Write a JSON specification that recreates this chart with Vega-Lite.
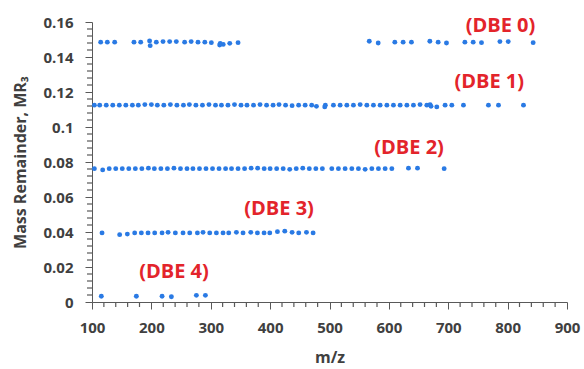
{
  "$schema": "https://vega.github.io/schema/vega-lite/v6.json",
  "autosize": "none",
  "width": 475,
  "height": 280,
  "padding": {"left": 92, "top": 22, "right": 17, "bottom": 67},
  "background": "white",
  "config": {"view": {"stroke": null}},
  "datasets": {
    "pts": [
      {"mz": 114.6, "mr": 0.1485, "dbe": "DBE 0"}, {"mz": 125.8, "mr": 0.1485, "dbe": "DBE 0"}, {"mz": 138.2, "mr": 0.1485, "dbe": "DBE 0"},
      {"mz": 170.7, "mr": 0.1485, "dbe": "DBE 0"}, {"mz": 182, "mr": 0.1485, "dbe": "DBE 0"}, {"mz": 197, "mr": 0.1492, "dbe": "DBE 0"},
      {"mz": 198, "mr": 0.1465, "dbe": "DBE 0"}, {"mz": 208.3, "mr": 0.1485, "dbe": "DBE 0"}, {"mz": 219.6, "mr": 0.1488, "dbe": "DBE 0"},
      {"mz": 230.8, "mr": 0.1488, "dbe": "DBE 0"}, {"mz": 242, "mr": 0.1488, "dbe": "DBE 0"}, {"mz": 256, "mr": 0.1485, "dbe": "DBE 0"},
      {"mz": 267, "mr": 0.1488, "dbe": "DBE 0"}, {"mz": 278.5, "mr": 0.1485, "dbe": "DBE 0"}, {"mz": 290, "mr": 0.1485, "dbe": "DBE 0"},
      {"mz": 301, "mr": 0.1482, "dbe": "DBE 0"}, {"mz": 315, "mr": 0.1468, "dbe": "DBE 0"}, {"mz": 316, "mr": 0.1478, "dbe": "DBE 0"},
      {"mz": 321, "mr": 0.1472, "dbe": "DBE 0"}, {"mz": 332, "mr": 0.1478, "dbe": "DBE 0"}, {"mz": 346, "mr": 0.1482, "dbe": "DBE 0"},
      {"mz": 567, "mr": 0.149, "dbe": "DBE 0"}, {"mz": 582, "mr": 0.148, "dbe": "DBE 0"}, {"mz": 610, "mr": 0.1485, "dbe": "DBE 0"},
      {"mz": 624, "mr": 0.1485, "dbe": "DBE 0"}, {"mz": 638, "mr": 0.1485, "dbe": "DBE 0"}, {"mz": 669, "mr": 0.149, "dbe": "DBE 0"},
      {"mz": 683, "mr": 0.1485, "dbe": "DBE 0"}, {"mz": 697, "mr": 0.148, "dbe": "DBE 0"}, {"mz": 728, "mr": 0.1485, "dbe": "DBE 0"},
      {"mz": 742, "mr": 0.1485, "dbe": "DBE 0"}, {"mz": 756, "mr": 0.1482, "dbe": "DBE 0"}, {"mz": 787, "mr": 0.1488, "dbe": "DBE 0"},
      {"mz": 801, "mr": 0.1488, "dbe": "DBE 0"}, {"mz": 843, "mr": 0.1482, "dbe": "DBE 0"},

      {"mz": 104, "mr": 0.1125, "dbe": "DBE 1"}, {"mz": 113, "mr": 0.1125, "dbe": "DBE 1"}, {"mz": 124, "mr": 0.1125, "dbe": "DBE 1"},
      {"mz": 135, "mr": 0.1125, "dbe": "DBE 1"}, {"mz": 146, "mr": 0.1125, "dbe": "DBE 1"}, {"mz": 157, "mr": 0.1125, "dbe": "DBE 1"},
      {"mz": 168, "mr": 0.1125, "dbe": "DBE 1"}, {"mz": 178, "mr": 0.1125, "dbe": "DBE 1"}, {"mz": 189, "mr": 0.1128, "dbe": "DBE 1"},
      {"mz": 200, "mr": 0.1128, "dbe": "DBE 1"}, {"mz": 210, "mr": 0.1125, "dbe": "DBE 1"}, {"mz": 221, "mr": 0.1125, "dbe": "DBE 1"},
      {"mz": 232, "mr": 0.1128, "dbe": "DBE 1"}, {"mz": 243, "mr": 0.1125, "dbe": "DBE 1"}, {"mz": 254, "mr": 0.1125, "dbe": "DBE 1"},
      {"mz": 264, "mr": 0.1128, "dbe": "DBE 1"}, {"mz": 275, "mr": 0.1125, "dbe": "DBE 1"}, {"mz": 286, "mr": 0.1125, "dbe": "DBE 1"},
      {"mz": 297, "mr": 0.1128, "dbe": "DBE 1"}, {"mz": 308, "mr": 0.1125, "dbe": "DBE 1"}, {"mz": 318, "mr": 0.1125, "dbe": "DBE 1"},
      {"mz": 329, "mr": 0.1125, "dbe": "DBE 1"}, {"mz": 340, "mr": 0.1128, "dbe": "DBE 1"}, {"mz": 351, "mr": 0.1125, "dbe": "DBE 1"},
      {"mz": 361, "mr": 0.1125, "dbe": "DBE 1"}, {"mz": 372, "mr": 0.1125, "dbe": "DBE 1"}, {"mz": 383, "mr": 0.1128, "dbe": "DBE 1"},
      {"mz": 394, "mr": 0.1125, "dbe": "DBE 1"}, {"mz": 405, "mr": 0.1125, "dbe": "DBE 1"}, {"mz": 415, "mr": 0.1128, "dbe": "DBE 1"},
      {"mz": 426, "mr": 0.1125, "dbe": "DBE 1"}, {"mz": 437, "mr": 0.1122, "dbe": "DBE 1"}, {"mz": 448, "mr": 0.1125, "dbe": "DBE 1"},
      {"mz": 459, "mr": 0.1125, "dbe": "DBE 1"}, {"mz": 470, "mr": 0.1125, "dbe": "DBE 1"}, {"mz": 478, "mr": 0.1118, "dbe": "DBE 1"},
      {"mz": 492, "mr": 0.1115, "dbe": "DBE 1"}, {"mz": 493, "mr": 0.1125, "dbe": "DBE 1"},
      {"mz": 506.6, "mr": 0.1125, "dbe": "DBE 1"}, {"mz": 517.9, "mr": 0.1125, "dbe": "DBE 1"}, {"mz": 529.2, "mr": 0.1125, "dbe": "DBE 1"},
      {"mz": 540.3, "mr": 0.1125, "dbe": "DBE 1"}, {"mz": 551.6, "mr": 0.1128, "dbe": "DBE 1"}, {"mz": 562.9, "mr": 0.1125, "dbe": "DBE 1"},
      {"mz": 574, "mr": 0.1125, "dbe": "DBE 1"}, {"mz": 585.3, "mr": 0.1125, "dbe": "DBE 1"}, {"mz": 596.6, "mr": 0.1125, "dbe": "DBE 1"},
      {"mz": 607.7, "mr": 0.1125, "dbe": "DBE 1"}, {"mz": 619, "mr": 0.1125, "dbe": "DBE 1"}, {"mz": 630.3, "mr": 0.1125, "dbe": "DBE 1"},
      {"mz": 641.4, "mr": 0.1125, "dbe": "DBE 1"}, {"mz": 652.5, "mr": 0.1128, "dbe": "DBE 1"}, {"mz": 663.9, "mr": 0.1125, "dbe": "DBE 1"},
      {"mz": 669.4, "mr": 0.1128, "dbe": "DBE 1"}, {"mz": 671, "mr": 0.1118, "dbe": "DBE 1"}, {"mz": 680.7, "mr": 0.1115, "dbe": "DBE 1"},
      {"mz": 694.7, "mr": 0.1125, "dbe": "DBE 1"}, {"mz": 706, "mr": 0.1125, "dbe": "DBE 1"}, {"mz": 725.6, "mr": 0.1125, "dbe": "DBE 1"},
      {"mz": 767.7, "mr": 0.1125, "dbe": "DBE 1"}, {"mz": 784.6, "mr": 0.1125, "dbe": "DBE 1"}, {"mz": 826.7, "mr": 0.1125, "dbe": "DBE 1"},

      {"mz": 104, "mr": 0.0762, "dbe": "DBE 2"}, {"mz": 118, "mr": 0.0755, "dbe": "DBE 2"}, {"mz": 129, "mr": 0.0762, "dbe": "DBE 2"},
      {"mz": 140, "mr": 0.0762, "dbe": "DBE 2"}, {"mz": 151, "mr": 0.0762, "dbe": "DBE 2"}, {"mz": 162, "mr": 0.0762, "dbe": "DBE 2"},
      {"mz": 173, "mr": 0.0762, "dbe": "DBE 2"}, {"mz": 184, "mr": 0.0762, "dbe": "DBE 2"}, {"mz": 195, "mr": 0.0765, "dbe": "DBE 2"},
      {"mz": 205, "mr": 0.0762, "dbe": "DBE 2"}, {"mz": 216, "mr": 0.0762, "dbe": "DBE 2"}, {"mz": 227, "mr": 0.0762, "dbe": "DBE 2"},
      {"mz": 238, "mr": 0.0765, "dbe": "DBE 2"}, {"mz": 249, "mr": 0.0762, "dbe": "DBE 2"}, {"mz": 260, "mr": 0.0762, "dbe": "DBE 2"},
      {"mz": 270, "mr": 0.0762, "dbe": "DBE 2"}, {"mz": 281, "mr": 0.0762, "dbe": "DBE 2"}, {"mz": 292, "mr": 0.0762, "dbe": "DBE 2"},
      {"mz": 303, "mr": 0.0762, "dbe": "DBE 2"}, {"mz": 314, "mr": 0.0762, "dbe": "DBE 2"}, {"mz": 325, "mr": 0.0762, "dbe": "DBE 2"},
      {"mz": 335, "mr": 0.0762, "dbe": "DBE 2"}, {"mz": 346, "mr": 0.0762, "dbe": "DBE 2"}, {"mz": 357, "mr": 0.0762, "dbe": "DBE 2"},
      {"mz": 368, "mr": 0.0765, "dbe": "DBE 2"}, {"mz": 379, "mr": 0.0765, "dbe": "DBE 2"}, {"mz": 390, "mr": 0.0762, "dbe": "DBE 2"},
      {"mz": 400, "mr": 0.0762, "dbe": "DBE 2"}, {"mz": 411, "mr": 0.0762, "dbe": "DBE 2"}, {"mz": 422, "mr": 0.0762, "dbe": "DBE 2"},
      {"mz": 433, "mr": 0.0758, "dbe": "DBE 2"}, {"mz": 444, "mr": 0.0762, "dbe": "DBE 2"}, {"mz": 455, "mr": 0.0765, "dbe": "DBE 2"},
      {"mz": 466, "mr": 0.0762, "dbe": "DBE 2"}, {"mz": 477, "mr": 0.0762, "dbe": "DBE 2"}, {"mz": 488, "mr": 0.0762, "dbe": "DBE 2"},
      {"mz": 503.9, "mr": 0.0762, "dbe": "DBE 2"}, {"mz": 515, "mr": 0.0762, "dbe": "DBE 2"}, {"mz": 526.3, "mr": 0.0762, "dbe": "DBE 2"},
      {"mz": 537.6, "mr": 0.0762, "dbe": "DBE 2"}, {"mz": 548.7, "mr": 0.0762, "dbe": "DBE 2"}, {"mz": 560, "mr": 0.0758, "dbe": "DBE 2"},
      {"mz": 571.3, "mr": 0.0762, "dbe": "DBE 2"}, {"mz": 582.4, "mr": 0.0762, "dbe": "DBE 2"}, {"mz": 593.7, "mr": 0.0762, "dbe": "DBE 2"},
      {"mz": 605, "mr": 0.0762, "dbe": "DBE 2"}, {"mz": 633, "mr": 0.0765, "dbe": "DBE 2"}, {"mz": 648.2, "mr": 0.0765, "dbe": "DBE 2"},
      {"mz": 693.1, "mr": 0.0762, "dbe": "DBE 2"},

      {"mz": 116.9, "mr": 0.0395, "dbe": "DBE 3"}, {"mz": 146.6, "mr": 0.0385, "dbe": "DBE 3"}, {"mz": 159.5, "mr": 0.0388, "dbe": "DBE 3"},
      {"mz": 171.9, "mr": 0.0395, "dbe": "DBE 3"}, {"mz": 183.1, "mr": 0.0395, "dbe": "DBE 3"}, {"mz": 194.4, "mr": 0.0395, "dbe": "DBE 3"},
      {"mz": 205.6, "mr": 0.0395, "dbe": "DBE 3"}, {"mz": 218, "mr": 0.0395, "dbe": "DBE 3"}, {"mz": 228.1, "mr": 0.0398, "dbe": "DBE 3"},
      {"mz": 240.4, "mr": 0.0395, "dbe": "DBE 3"}, {"mz": 253.3, "mr": 0.0395, "dbe": "DBE 3"}, {"mz": 264.6, "mr": 0.0395, "dbe": "DBE 3"},
      {"mz": 277.5, "mr": 0.0395, "dbe": "DBE 3"}, {"mz": 287, "mr": 0.0398, "dbe": "DBE 3"}, {"mz": 298.3, "mr": 0.0395, "dbe": "DBE 3"},
      {"mz": 309.5, "mr": 0.0395, "dbe": "DBE 3"}, {"mz": 320.7, "mr": 0.0395, "dbe": "DBE 3"}, {"mz": 330.3, "mr": 0.0395, "dbe": "DBE 3"},
      {"mz": 343.2, "mr": 0.0398, "dbe": "DBE 3"}, {"mz": 354.4, "mr": 0.0395, "dbe": "DBE 3"}, {"mz": 367.4, "mr": 0.0398, "dbe": "DBE 3"},
      {"mz": 378.6, "mr": 0.0395, "dbe": "DBE 3"}, {"mz": 389.8, "mr": 0.0395, "dbe": "DBE 3"}, {"mz": 399.4, "mr": 0.0395, "dbe": "DBE 3"},
      {"mz": 412.3, "mr": 0.0402, "dbe": "DBE 3"}, {"mz": 424.7, "mr": 0.0405, "dbe": "DBE 3"}, {"mz": 437, "mr": 0.0398, "dbe": "DBE 3"},
      {"mz": 448.2, "mr": 0.0395, "dbe": "DBE 3"}, {"mz": 461.2, "mr": 0.0398, "dbe": "DBE 3"}, {"mz": 472.4, "mr": 0.0395, "dbe": "DBE 3"},

      {"mz": 115.7, "mr": 0.0033, "dbe": "DBE 4"}, {"mz": 174.7, "mr": 0.0033, "dbe": "DBE 4"}, {"mz": 218, "mr": 0.0033, "dbe": "DBE 4"},
      {"mz": 233.7, "mr": 0.003, "dbe": "DBE 4"}, {"mz": 275.8, "mr": 0.0038, "dbe": "DBE 4"}, {"mz": 291, "mr": 0.0038, "dbe": "DBE 4"}
    ],
    "labels": [
      {"mz": 788, "mr": 0.158, "text": "(DBE 0)"},
      {"mz": 769, "mr": 0.1256, "text": "(DBE 1)"},
      {"mz": 634, "mr": 0.0881, "text": "(DBE 2)"},
      {"mz": 415, "mr": 0.0533, "text": "(DBE 3)"},
      {"mz": 238, "mr": 0.017, "text": "(DBE 4)"}
    ],
    "minorx": [
      {"mz": 120}, {"mz": 140}, {"mz": 160}, {"mz": 180}, {"mz": 220}, {"mz": 240}, {"mz": 260}, {"mz": 280},
      {"mz": 320}, {"mz": 340}, {"mz": 360}, {"mz": 380}, {"mz": 420}, {"mz": 440}, {"mz": 460}, {"mz": 480},
      {"mz": 520}, {"mz": 540}, {"mz": 560}, {"mz": 580}, {"mz": 620}, {"mz": 640}, {"mz": 660}, {"mz": 680},
      {"mz": 720}, {"mz": 740}, {"mz": 760}, {"mz": 780}, {"mz": 820}, {"mz": 840}, {"mz": 860}, {"mz": 880}
    ],
    "minory": [
      {"mr": 0.004}, {"mr": 0.008}, {"mr": 0.012}, {"mr": 0.016}, {"mr": 0.024}, {"mr": 0.028}, {"mr": 0.032}, {"mr": 0.036},
      {"mr": 0.044}, {"mr": 0.048}, {"mr": 0.052}, {"mr": 0.056}, {"mr": 0.064}, {"mr": 0.068}, {"mr": 0.072}, {"mr": 0.076},
      {"mr": 0.084}, {"mr": 0.088}, {"mr": 0.092}, {"mr": 0.096}, {"mr": 0.104}, {"mr": 0.108}, {"mr": 0.112}, {"mr": 0.116},
      {"mr": 0.124}, {"mr": 0.128}, {"mr": 0.132}, {"mr": 0.136}, {"mr": 0.144}, {"mr": 0.148}, {"mr": 0.152}, {"mr": 0.156}
    ]
  },
  "layer": [
    {
      "data": {"name": "pts"},
      "mark": {"type": "point", "filled": true, "opacity": 1, "color": "#2a7ae4", "size": 24, "shape": "circle"},
      "encoding": {
        "x": {
          "field": "mz", "type": "quantitative",
          "scale": {"domain": [100, 900], "nice": false, "zero": false},
          "axis": {
            "orient": "bottom",
            "title": "m/z",
            "values": [100, 200, 300, 400, 500, 600, 700, 800, 900],
            "grid": false, "labelOverlap": false, "ticks": true, "tickWidth": 1, "tickOpacity": 1,
            "domainColor": "#595959", "tickColor": "#595959", "tickSize": 7,
            "labelFont": "Open Sans", "labelFontSize": 15, "labelFontWeight": "bold", "labelColor": "#404040",
            "labelPadding": 11, "labelFlush": false,
            "titleFont": "Open Sans", "titleFontSize": 16, "titleFontWeight": "bold", "titleColor": "#404040",
            "titlePadding": 14
          }
        },
        "y": {
          "field": "mr", "type": "quantitative",
          "scale": {"domain": [0, 0.16], "nice": false},
          "axis": {
            "orient": "left",
            "title": "Mass Remainder, MR₃",
            "values": [0, 0.02, 0.04, 0.06, 0.08, 0.1, 0.12, 0.14, 0.16],
            "format": ".2~f",
            "grid": false, "labelOverlap": false, "ticks": true, "tickWidth": 1, "tickOpacity": 1,
            "domainColor": "#595959", "tickColor": "#595959", "tickSize": 7,
            "labelFont": "Open Sans", "labelFontSize": 15, "labelFontWeight": "bold", "labelColor": "#404040",
            "labelPadding": 12, "labelFlush": false,
            "titleFont": "Open Sans", "titleFontSize": 16, "titleFontWeight": "bold", "titleColor": "#404040",
            "titlePadding": 14
          }
        }
      }
    },
    {
      "data": {"name": "minorx"},
      "mark": {"type": "tick", "orient": "vertical", "size": 5, "thickness": 1.2, "color": "#595959", "yOffset": 2.5, "opacity": 1},
      "encoding": {
        "x": {"field": "mz", "type": "quantitative", "axis": null},
        "y": {"datum": 0, "type": "quantitative", "axis": null}
      }
    },
    {
      "data": {"name": "minory"},
      "mark": {"type": "tick", "orient": "horizontal", "size": 5, "thickness": 1.2, "color": "#595959", "xOffset": -2.5, "opacity": 1},
      "encoding": {
        "x": {"datum": 100, "type": "quantitative", "axis": null},
        "y": {"field": "mr", "type": "quantitative", "axis": null}
      }
    },
    {
      "data": {"name": "labels"},
      "mark": {"type": "text", "color": "#e3242b", "font": "Open Sans", "fontSize": 20, "fontWeight": "bold", "align": "center", "baseline": "middle"},
      "encoding": {
        "x": {"field": "mz", "type": "quantitative", "axis": null},
        "y": {"field": "mr", "type": "quantitative", "axis": null},
        "text": {"field": "text"}
      }
    }
  ],
  "resolve": {"axis": {"x": "independent", "y": "independent"}}
}
